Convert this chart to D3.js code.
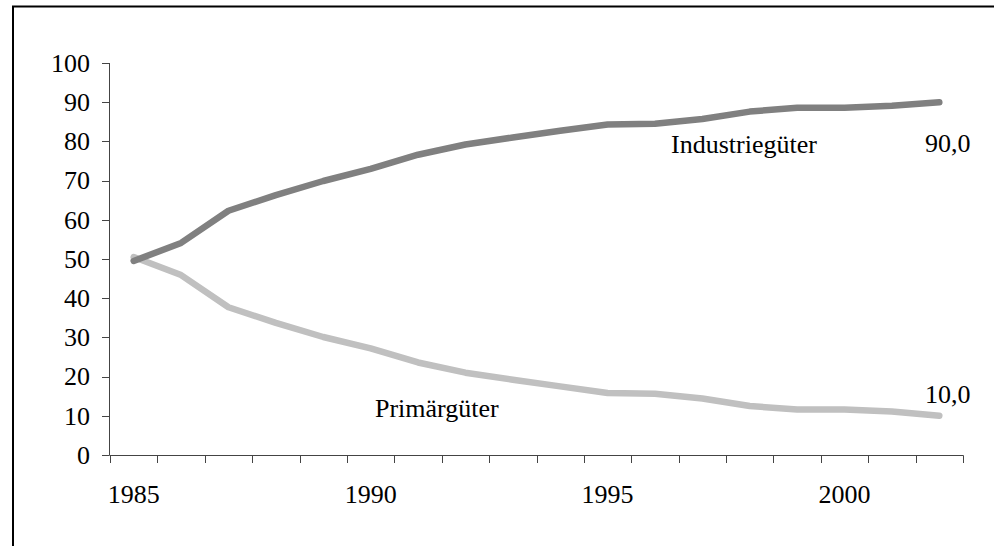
<!DOCTYPE html>
<html>
<head>
<meta charset="utf-8">
<script src="https://cdn.jsdelivr.net/npm/d3@7"></script>
<style>
  body { margin: 0; background: #fff; }
  svg text { font-family: "Liberation Serif", "Times New Roman", serif; fill: #000; }
</style>
</head>
<body>
<svg id="chart" width="994" height="546"></svg>
<script>
// Anteil am Export (%), 1985-2002
const years = [1985, 1986, 1987, 1988, 1989, 1990, 1991, 1992, 1993, 1994,
               1995, 1996, 1997, 1998, 1999, 2000, 2001, 2002]
const industrie = [49.5, 54.1, 62.3, 66.3, 69.9, 73.0, 76.6, 79.2, 81.0, 82.7,
                   84.3, 84.5, 85.7, 87.6, 88.6, 88.6, 89.1, 90.0]
const primaer = [50.5, 45.9, 37.7, 33.7, 30.1, 27.2, 23.6, 21.0, 19.2, 17.5,
                 15.8, 15.6, 14.4, 12.5, 11.6, 11.6, 11.1, 10.0]
const yTicks = [0, 10, 20, 30, 40, 50, 60, 70, 80, 90, 100]
const xLabels = [1985, 1990, 1995, 2000]

const svg = d3.select("#chart")

// Rahmen (rechts und unten abgeschnitten)
svg.append("rect")
  .attr("x", 13).attr("y", 6.5)
  .attr("width", 1100).attr("height", 700)
  .attr("fill", "none").attr("stroke", "#000").attr("stroke-width", 2)

let x = d3.scaleBand().domain(years).range([110, 963])
let y = d3.scaleLinear().domain([0, 100]).range([455, 63])

const axisColor = "#444"

// y-Achse
const gy = svg.append("g")
gy.append("line")
  .attr("x1", 109.5).attr("x2", 109.5)
  .attr("y1", y(100)).attr("y2", y(0))
  .attr("stroke", axisColor)
gy.selectAll(".yt").data(yTicks).enter().append("line")
  .attr("x1", 102).attr("x2", 109.5)
  .attr("y1", d => Math.round(y(d)) + 0.5).attr("y2", d => Math.round(y(d)) + 0.5)
  .attr("stroke", axisColor)
gy.selectAll(".yl").data(yTicks).enter().append("text")
  .attr("x", 90).attr("y", d => y(d))
  .attr("dy", "0.34em")
  .attr("text-anchor", "end")
  .style("font-size", "26px")
  .text(d => d)

// x-Achse
const gx = svg.append("g")
gx.append("line")
  .attr("x1", 109.5).attr("x2", 963.5)
  .attr("y1", 455.5).attr("y2", 455.5)
  .attr("stroke", axisColor)
const bounds = years.map(d => x(d)).concat([x.range()[1]])
gx.selectAll(".xt").data(bounds).enter().append("line")
  .attr("x1", d => Math.round(d) + 0.5).attr("x2", d => Math.round(d) + 0.5)
  .attr("y1", 455.5).attr("y2", 463)
  .attr("stroke", axisColor)
gx.selectAll(".xl").data(xLabels).enter().append("text")
  .attr("x", d => x(d) + x.bandwidth() / 2)
  .attr("y", 503)
  .attr("text-anchor", "middle")
  .style("font-size", "26px")
  .text(d => d)

// Linien
let line = d3.line()
  .x((d, i) => x(years[i]) + x.bandwidth() / 2)
  .y(d => y(d))

svg.append("path")
  .datum(primaer)
  .attr("d", line)
  .attr("fill", "none")
  .attr("stroke", "#c0c0c0")
  .attr("stroke-width", 6.5)
  .attr("stroke-linecap", "round")
  .attr("stroke-linejoin", "round")

svg.append("path")
  .datum(industrie)
  .attr("d", line)
  .attr("fill", "none")
  .attr("stroke", "#808080")
  .attr("stroke-width", 6.5)
  .attr("stroke-linecap", "round")
  .attr("stroke-linejoin", "round")

// Beschriftungen
svg.append("text").attr("x", 671).attr("y", 153)
  .style("font-size", "26px").text("Industriegüter")
svg.append("text").attr("x", 925).attr("y", 152)
  .style("font-size", "26px").text(d3.format(".1f")(industrie[industrie.length - 1]).replace(".", ","))
svg.append("text").attr("x", 375).attr("y", 417)
  .style("font-size", "26px").text("Primärgüter")
svg.append("text").attr("x", 925).attr("y", 403)
  .style("font-size", "26px").text(d3.format(".1f")(primaer[primaer.length - 1]).replace(".", ","))
</script>
</body>
</html>
